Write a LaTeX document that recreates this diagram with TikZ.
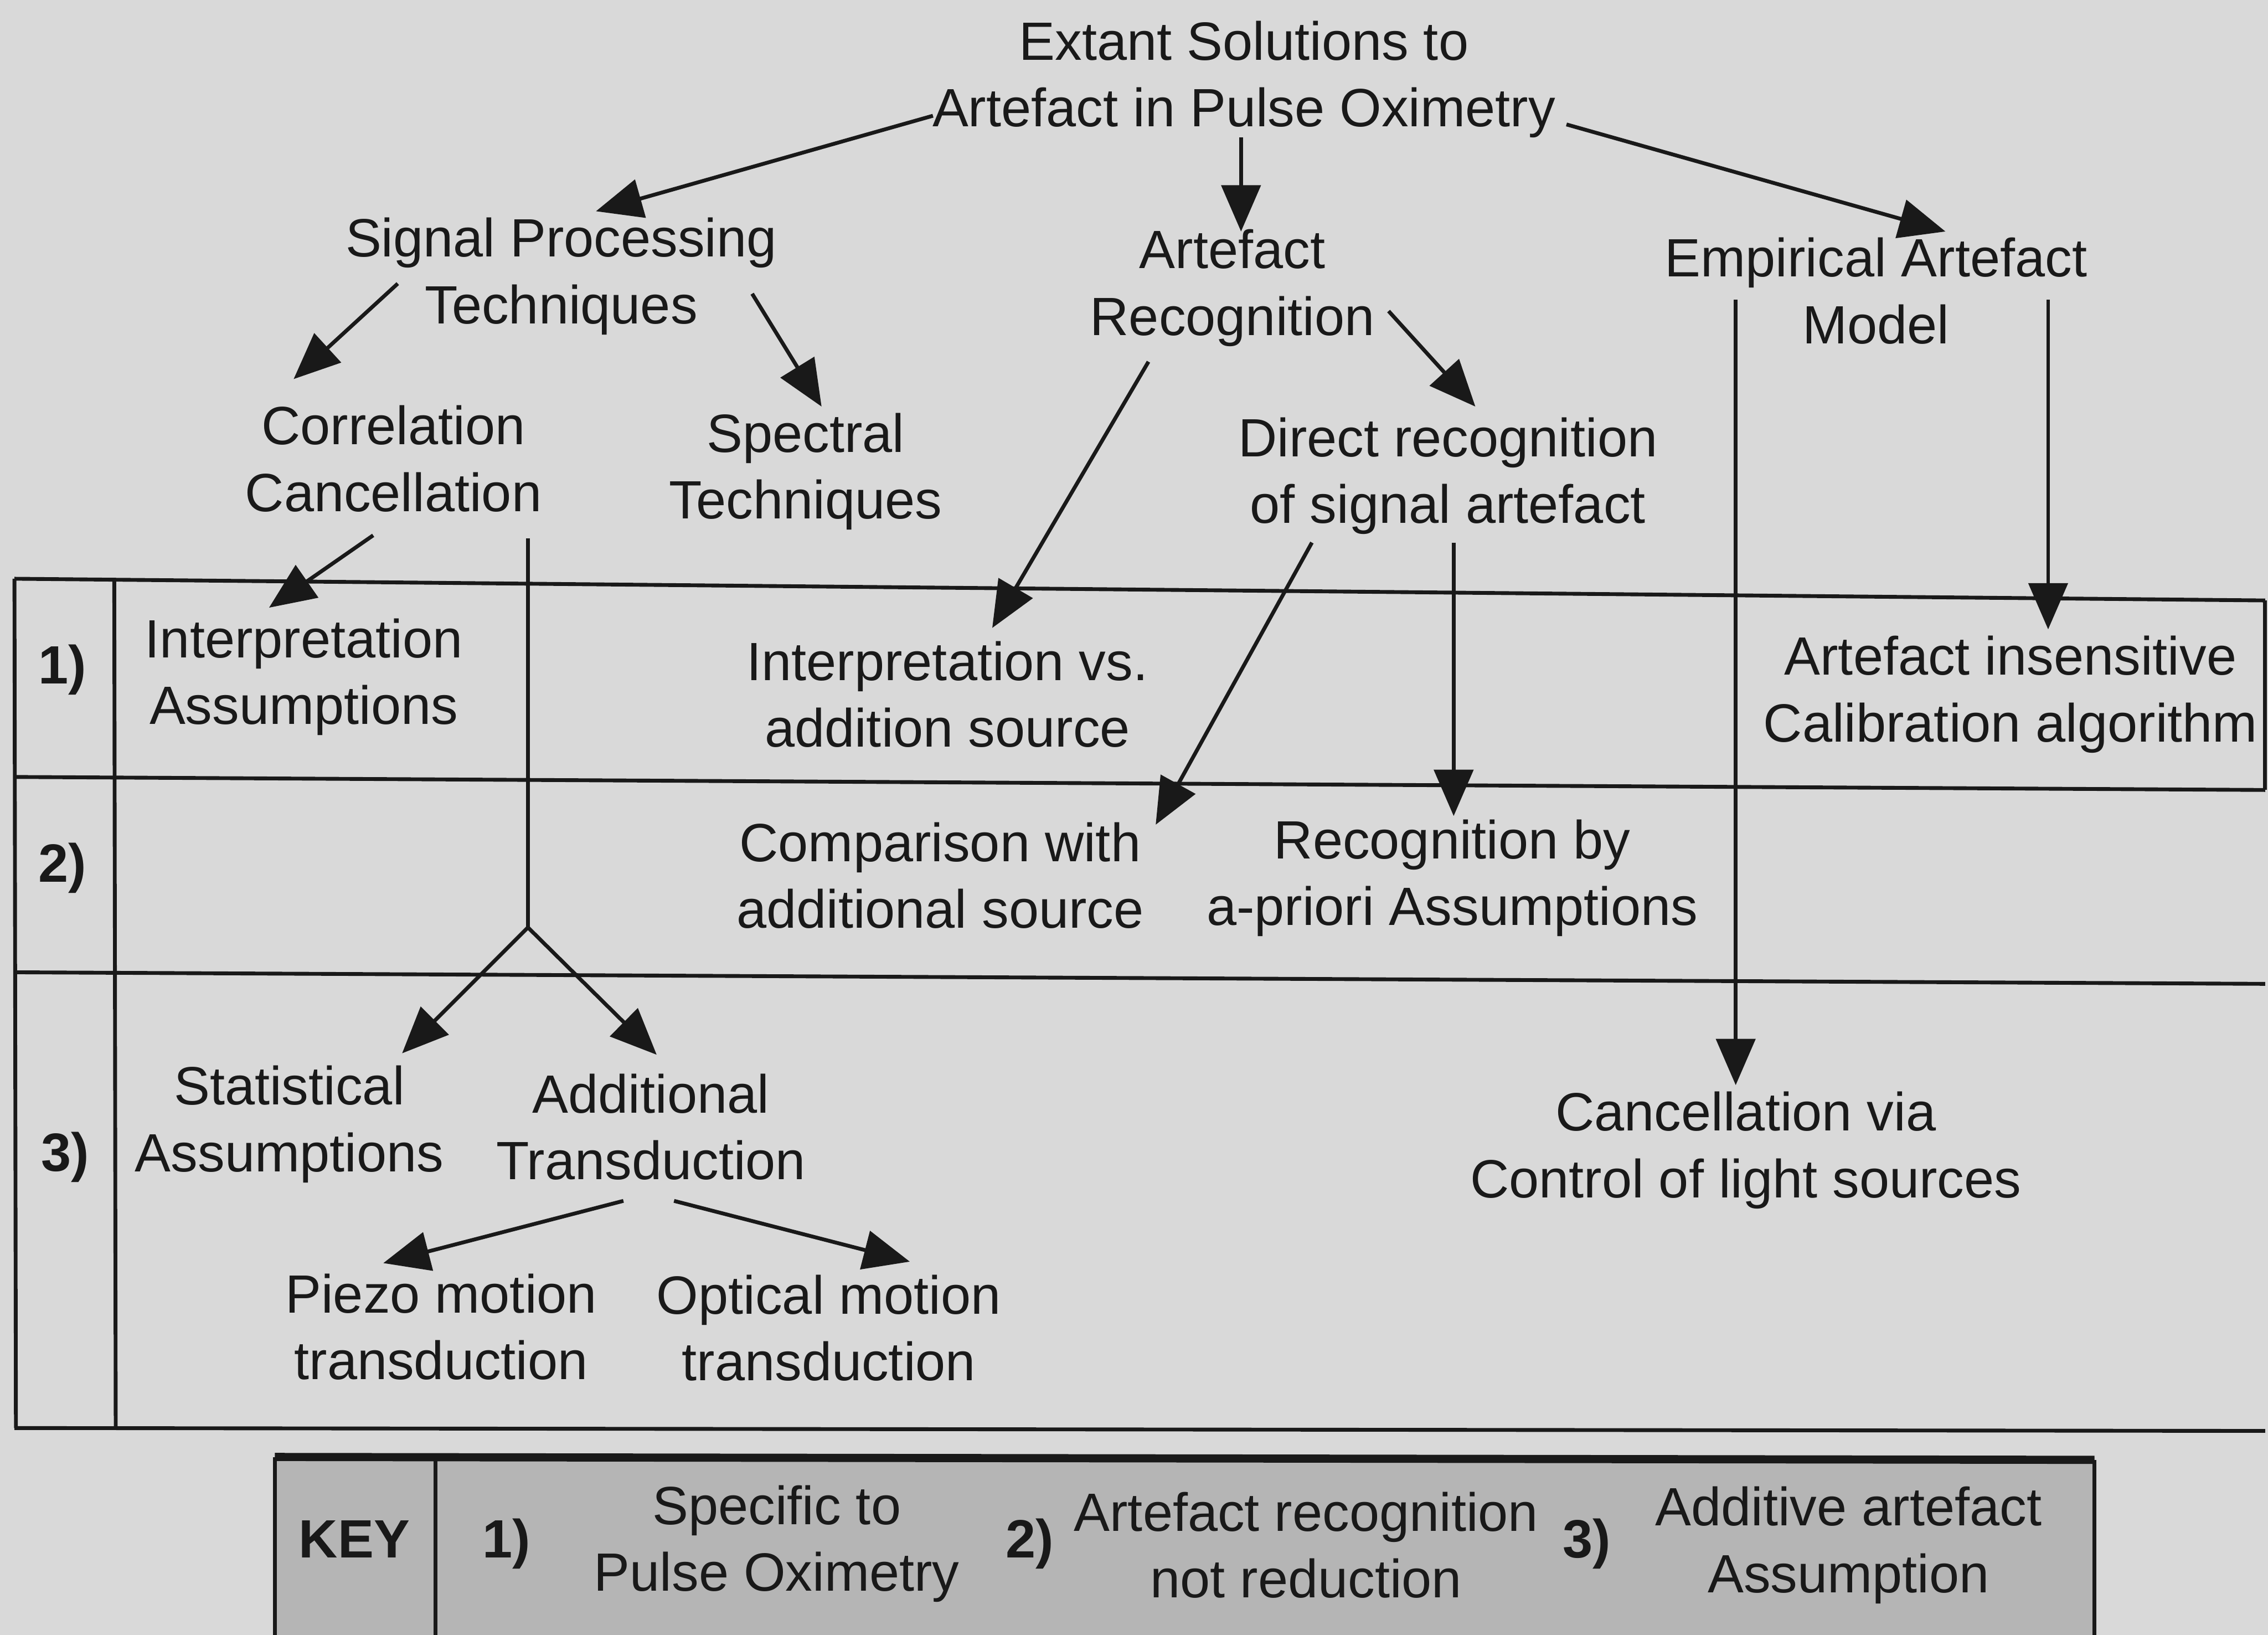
\documentclass[tikz,border=0pt]{standalone}
\usepackage{fontspec}
\setmainfont{Liberation Sans}
\usetikzlibrary{arrows.meta,calc}
\definecolor{scan}{gray}{0.85}
\definecolor{keygrey}{gray}{0.71}
\definecolor{ink}{gray}{0.1}
\tikzset{
  lbl/.style={align=center, inner sep=0pt, text=ink, font=\fontsize{10.6}{13.1}\selectfont},
  rowno/.style={inner sep=0pt, text=ink, font=\fontsize{10.6}{13.1}\selectfont\bfseries},
  arr/.style={draw=ink, line width=0.75pt, -{Triangle[length=3.2mm,width=2.7mm]}},
  rule/.style={draw=ink, line width=0.75pt},
}
\begin{document}
\begin{tikzpicture}[x=0.1mm,y=-0.1mm]
        \fill[scan] (0,0) rectangle (1568,1130);
        \useasboundingbox (0,0) rectangle (1568,1130);
        \clip (0,0) rectangle (1568,1130);

        % table of the three rows
        \draw[rule] (10,400) -- (1566,415);
        \draw[rule] (10,537) -- (1566,546);
        \draw[rule] (10,672) -- (1566,680);
        \draw[rule] (10,987) -- (1566,989);
        \draw[rule] (10,400) -- (11,987);
        \draw[rule] (79,400) -- (80,987);
        \draw[rule] (1566,415) -- (1566,546);
        \node[rowno] (r1) at (43,463) {1)};
        \node[rowno] (r2) at (43,600) {2)};
        \node[rowno] (r3) at (45,800) {3)};

        % tree
        \node[lbl] (title) at (860,55) {Extant Solutions to\\Artefact in Pulse Oximetry};
        \node[lbl] (sig) at (388,191) {Signal Processing\\Techniques};
        \node[lbl] (arec) at (852,199) {Artefact\\Recognition};
        \node[lbl] (emp) at (1297,201) {Empirical Artefact\\Model};
        \node[lbl] (corr) at (272,317) {Correlation\\Cancellation};
        \node[lbl] (spec) at (557,326) {Spectral\\Techniques};
        \node[lbl] (direct) at (1001,329) {Direct recognition\\of signal artefact};
        \node[lbl] (interp) at (210,468) {Interpretation\\Assumptions};
        \node[lbl] (interpvs) at (655,480) {Interpretation vs.\\addition source};
        \node[lbl] (insens) at (1390,480) {Artefact insensitive\\Calibration algorithm};
        \node[lbl] (comp) at (650,605) {Comparison with\\additional source};
        \node[lbl] (recog) at (1004,607) {Recognition by\\a-priori Assumptions};
        \node[lbl] (stat) at (200,777) {Statistical\\Assumptions};
        \node[lbl] (addt) at (450,779) {Additional\\Transduction};
        \node[lbl] (cancel) at (1207,795) {Cancellation via\\Control of light sources};
        \node[lbl] (piezo) at (305,917) {Piezo motion\\transduction};
        \node[lbl] (optic) at (573,918) {Optical motion\\transduction};

        \draw[arr] ($(title)+(-215,25)$) -- ($(sig)+(24,-45)$);
        \draw[arr] ($(title)+(-2,40)$) -- ($(arec)+(6,-39)$);
        \draw[arr] ($(title)+(223,31)$) -- ($(emp)+(48,-41)$);
        \draw[arr] ($(sig)+(-113,5)$) -- ($(corr)+(-69,-55)$);
        \draw[arr] ($(sig)+(132,12)$) -- ($(spec)+(11,-45)$);
        \draw[arr] ($(arec)+(-58,51)$) -- ($(interpvs)+(31,-46)$);
        \draw[arr] ($(arec)+(108,16)$) -- ($(direct)+(19,-48)$);
        \draw[arr] ($(corr)+(-14,53)$) -- ($(interp)+(-24,-48)$);
        \draw[rule] ($(corr)+(93,55)$) -- (365,641) coordinate (fork);
        \draw[arr] (fork) -- ($(stat)+(78,-49)$);
        \draw[arr] (fork) -- ($(addt)+(4,-50)$);
        \draw[arr] ($(addt)+(-19,51)$) -- ($(piezo)+(-40,-44)$);
        \draw[arr] ($(addt)+(16,51)$) -- ($(optic)+(56,-46)$);
        \draw[arr] ($(direct)+(-94,46)$) -- ($(comp)+(149,-35)$);
        \draw[arr] ($(direct)+(4,46)$) -- ($(recog)+(1,-43)$);
        \draw[arr] ($(emp)+(-97,6)$) -- ($(cancel)+(-7,-45)$);
        \draw[arr] ($(emp)+(119,6)$) -- ($(insens)+(26,-45)$);

        % key
        \fill[keygrey] (190,1007) rectangle (1448,1140);
        \draw[rule] (190,1007) -- (190,1140);
        \draw[rule] (301,1007) -- (301,1140);
        \draw[rule] (1448,1009) -- (1448,1140);
        \draw[rule,line width=1.6pt] (190,1007) -- (1448,1009);
        \node[rowno] (key) at (245,1064) {KEY};
        \node[rowno] (k1) at (350,1067) {1)};
        \node[lbl] (kspec) at (537,1067) {Specific to\\Pulse Oximetry};
        \node[rowno] (k2) at (712,1067) {2)};
        \node[lbl] (krec) at (903,1068) {Artefact recognition\\not reduction};
        \node[rowno] (k3) at (1097,1067) {3)};
        \node[lbl] (kadd) at (1278,1068) {Additive artefact\\Assumption};
\end{tikzpicture}
\end{document}
